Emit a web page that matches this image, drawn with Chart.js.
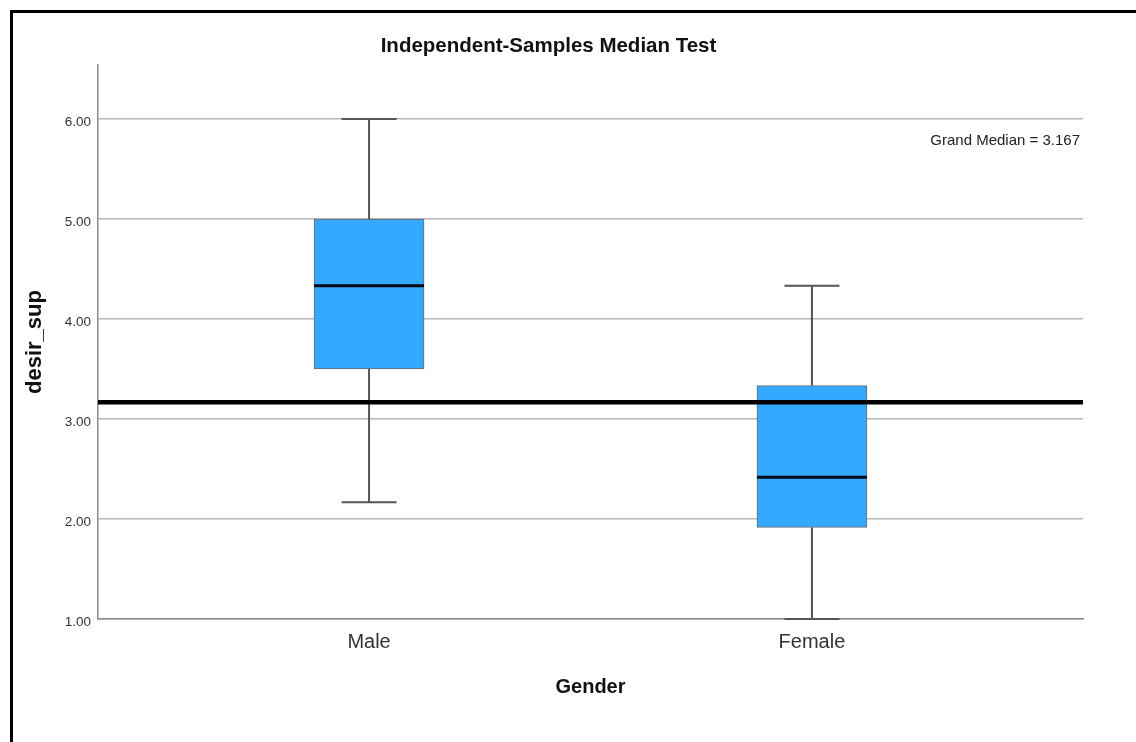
<!DOCTYPE html>
<html>
<head>
<meta charset="utf-8">
<script src="https://cdn.jsdelivr.net/npm/chart.js@4.4.1/dist/chart.umd.min.js"></script>
<style>
  html, body { margin: 0; padding: 0; background: #fff; }
  #wrap { position: relative; width: 1136px; height: 742px; background: #fff; }
  #frame { position: absolute; left: 10px; top: 10px; right: 0; bottom: 0;
           border-left: 3px solid #000; border-top: 3px solid #000; pointer-events: none; }
  canvas { display: block; }
</style>
</head>
<body>
<div id="wrap">
  <canvas id="chart" width="1136" height="742"></canvas>
  <div id="frame"></div>
</div>
<script>
// Gender groups and their box-plot summaries for desir_sup
const categories  = ['Male', 'Female'];
const whiskerLow  = [2.167, 1.000];
const q1          = [3.500, 1.917];
const median      = [4.333, 2.417];
const q3          = [5.000, 3.333];
const whiskerHigh = [6.000, 4.333];
const grandMedian = 3.167;
const yTicks      = [1, 2, 3, 4, 5, 6];

const FONT = '"Liberation Sans", Arial, Helvetica, sans-serif';

// Whiskers, caps, medians and the grand-median reference line
const boxWhiskers = {
  id: 'boxWhiskers',
  beforeDatasetsDraw(chart) {
    const { ctx, scales: { x, y } } = chart;
    const capHalf = 27.5;
    ctx.save();
    ctx.strokeStyle = '#555';
    ctx.lineWidth = 2;
    categories.forEach((c, i) => {
      const px = x.getPixelForValue(i);
      const yHi = y.getPixelForValue(whiskerHigh[i]);
      const yLo = y.getPixelForValue(whiskerLow[i]);
      ctx.beginPath();
      ctx.moveTo(px, y.getPixelForValue(q3[i])); ctx.lineTo(px, yHi);
      ctx.moveTo(px, y.getPixelForValue(q1[i])); ctx.lineTo(px, yLo);
      ctx.moveTo(px - capHalf, yHi); ctx.lineTo(px + capHalf, yHi);
      ctx.moveTo(px - capHalf, yLo); ctx.lineTo(px + capHalf, yLo);
      ctx.stroke();
    });
    ctx.restore();
  },
  afterDatasetsDraw(chart) {
    const { ctx, chartArea, scales: { y } } = chart;
    const bars = chart.getDatasetMeta(0).data;
    ctx.save();
    // medians
    ctx.strokeStyle = '#05081a';
    ctx.lineWidth = 3;
    categories.forEach((c, i) => {
      const bar = bars[i];
      const my = y.getPixelForValue(median[i]);
      ctx.beginPath();
      ctx.moveTo(bar.x - bar.width / 2, my);
      ctx.lineTo(bar.x + bar.width / 2, my);
      ctx.stroke();
    });
    // grand median
    const gy = y.getPixelForValue(grandMedian);
    ctx.strokeStyle = '#000';
    ctx.lineWidth = 4.5;
    ctx.beginPath();
    ctx.moveTo(chartArea.left, gy);
    ctx.lineTo(chartArea.right, gy);
    ctx.stroke();
    // grand median note
    ctx.fillStyle = '#222';
    ctx.font = '15px ' + FONT;
    ctx.textAlign = 'right';
    ctx.textBaseline = 'middle';
    ctx.fillText('Grand Median = ' + grandMedian.toFixed(3), chartArea.right - 3, chartArea.top + 76);
    ctx.restore();
  }
};

new Chart(document.getElementById('chart'), {
  type: 'bar',
  data: {
    datasets: [{
      data: categories.map((c, i) => ({ x: i, y: [q1[i], q3[i]] })),
      backgroundColor: '#33aaff',
      borderColor: '#6a6a6a',
      borderWidth: 1,
      borderSkipped: false,
      barThickness: 110
    }]
  },
  plugins: [boxWhiskers],
  options: {
    responsive: false,
    animation: false,
    layout: { padding: { left: 14, right: 53, top: 0, bottom: 0 } },
    plugins: {
      legend: { display: false },
      tooltip: { enabled: false },
      title: {
        display: true,
        text: 'Independent-Samples Median Test',
        color: '#111',
        font: { family: FONT, size: 20.5, weight: 'bold' },
        padding: { top: 34, bottom: 6.4 }
      }
    },
    scales: {
      x: {
        type: 'linear',
        offset: false,
        bounds: 'data',
        min: -0.612,
        max: 1.612,
        afterBuildTicks: s => { s.ticks = categories.map((c, i) => ({ value: i })); },
        afterFit: s => { s.height = 123; },
        grid: { display: false, drawTicks: false, offset: false },
        border: { display: true, color: '#8a8a8a', width: 1.5 },
        ticks: {
          callback: v => categories[v] ?? '',
          autoSkip: false, maxRotation: 0,
          color: '#333',
          font: { family: FONT, size: 20 },
          padding: 11
        },
        title: {
          display: true, text: 'Gender', color: '#111',
          font: { family: FONT, size: 20, weight: 'bold' },
          padding: { bottom: 43 }
        }
      },
      y: {
        min: 1,
        max: 6.54,
        afterBuildTicks: s => { s.ticks = yTicks.map(v => ({ value: v })); },
        afterFit: s => { s.width = 84; },
        grid: { color: '#b8b8b8', lineWidth: 1.5, drawTicks: false },
        border: { color: '#8a8a8a', width: 1.5 },
        ticks: {
          callback: v => Number(v).toFixed(2),
          color: '#333',
          font: { family: FONT, size: 13.5 },
          padding: 7,
          labelOffset: 3
        },
        title: {
          display: true, text: 'desir_sup', color: '#111',
          font: { family: FONT, size: 22, weight: 'bold' },
          padding: { top: 8 }
        }
      }
    }
  }
});
</script>
</body>
</html>
